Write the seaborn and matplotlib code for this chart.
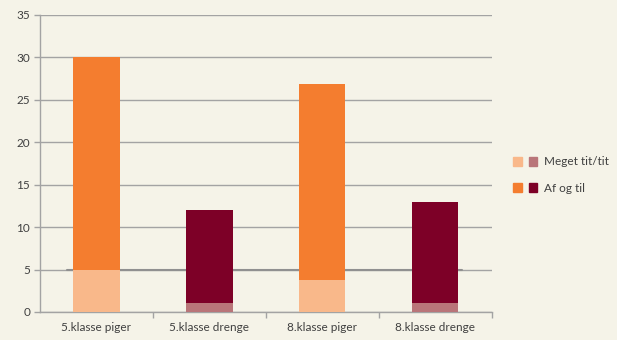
import matplotlib
matplotlib.use("Agg")
import matplotlib.pyplot as plt
import seaborn as sns
import numpy as np
from matplotlib.patches import Patch
from matplotlib.legend_handler import HandlerTuple

categories = ["5.klasse piger", "5.klasse drenge", "8.klasse piger", "8.klasse drenge"]
meget_tit = [5, 1, 3.8, 1]
af_og_til = [25, 11, 23.1, 12]
yticks = [0, 5, 10, 15, 20, 25, 30, 35]

light_cols = ["#F9B88A", "#B97579", "#F9B88A", "#B97579"]
dark_cols = ["#F47D2F", "#7D0027", "#F47D2F", "#7D0027"]
bg = "#F5F3E8"
grid_c = "#A3A3A3"
text_c = "#404040"

sns.set_theme(style="white")
plt.rcParams["font.family"] = ["Lato", "DejaVu Sans"]

totals = [m + a for m, a in zip(meget_tit, af_og_til)]

fig = plt.figure(figsize=(6.17, 3.40), dpi=100, facecolor=bg)
ax = fig.add_axes([0.0648, 0.0824, 0.7322, 0.8736])
ax.set_facecolor(bg)

ax.axhline(5, xmin=0.06, xmax=0.935, color="#909090", linewidth=1.5, zorder=1.5)

sns.barplot(x=categories, y=totals, hue=categories, palette=dark_cols,
            legend=False, width=0.41, saturation=1, linewidth=0, ax=ax)
sns.barplot(x=categories, y=meget_tit, hue=categories, palette=light_cols,
            legend=False, width=0.41, saturation=1, linewidth=0, ax=ax)
for p in ax.patches:
    p.set_zorder(3)
    p.set_edgecolor("none")

ax.set_ylim(0, 35)
ax.set_xlim(-0.5, 3.5)
ax.set_yticks(yticks)
ax.set_yticklabels([str(v) for v in yticks], fontsize=8.5, color=text_c)
ax.yaxis.grid(True, color=grid_c, linewidth=1.0, zorder=0)
ax.set_axisbelow(True)

ax.set_xticks(range(len(categories)))
ax.set_xticklabels(categories, fontsize=8.5, color=text_c)
ax.set_xticks([0.5, 1.5, 2.5, 3.5], minor=True)
ax.tick_params(axis="x", which="major", length=0, pad=7)
ax.tick_params(axis="x", which="minor", length=4, color=grid_c, width=1, direction="out", bottom=True)
ax.tick_params(axis="y", length=4, color=grid_c, width=1, direction="out", left=True, pad=3)
ax.set_xlabel("")
ax.set_ylabel("")

for s in ["top", "right"]:
    ax.spines[s].set_visible(False)
for s in ["left", "bottom"]:
    ax.spines[s].set_color(grid_c)
    ax.spines[s].set_linewidth(1.0)

h1 = (Patch(color=light_cols[0]), Patch(color=light_cols[1]))
h2 = (Patch(color=dark_cols[0]), Patch(color=dark_cols[1]))
leg = fig.legend([h1, h2], ["Meget tit/tit", "Af og til"],
                 handler_map={tuple: HandlerTuple(ndivide=None, pad=0.6)},
                 loc="center left", bbox_to_anchor=(0.815, 0.485),
                 frameon=False, fontsize=8.5, handlelength=2.0, handleheight=0.8,
                 labelspacing=1.3, handletextpad=0.6)
for t in leg.get_texts():
    t.set_color(text_c)

fig.savefig("out.png", dpi=100, facecolor=bg)
